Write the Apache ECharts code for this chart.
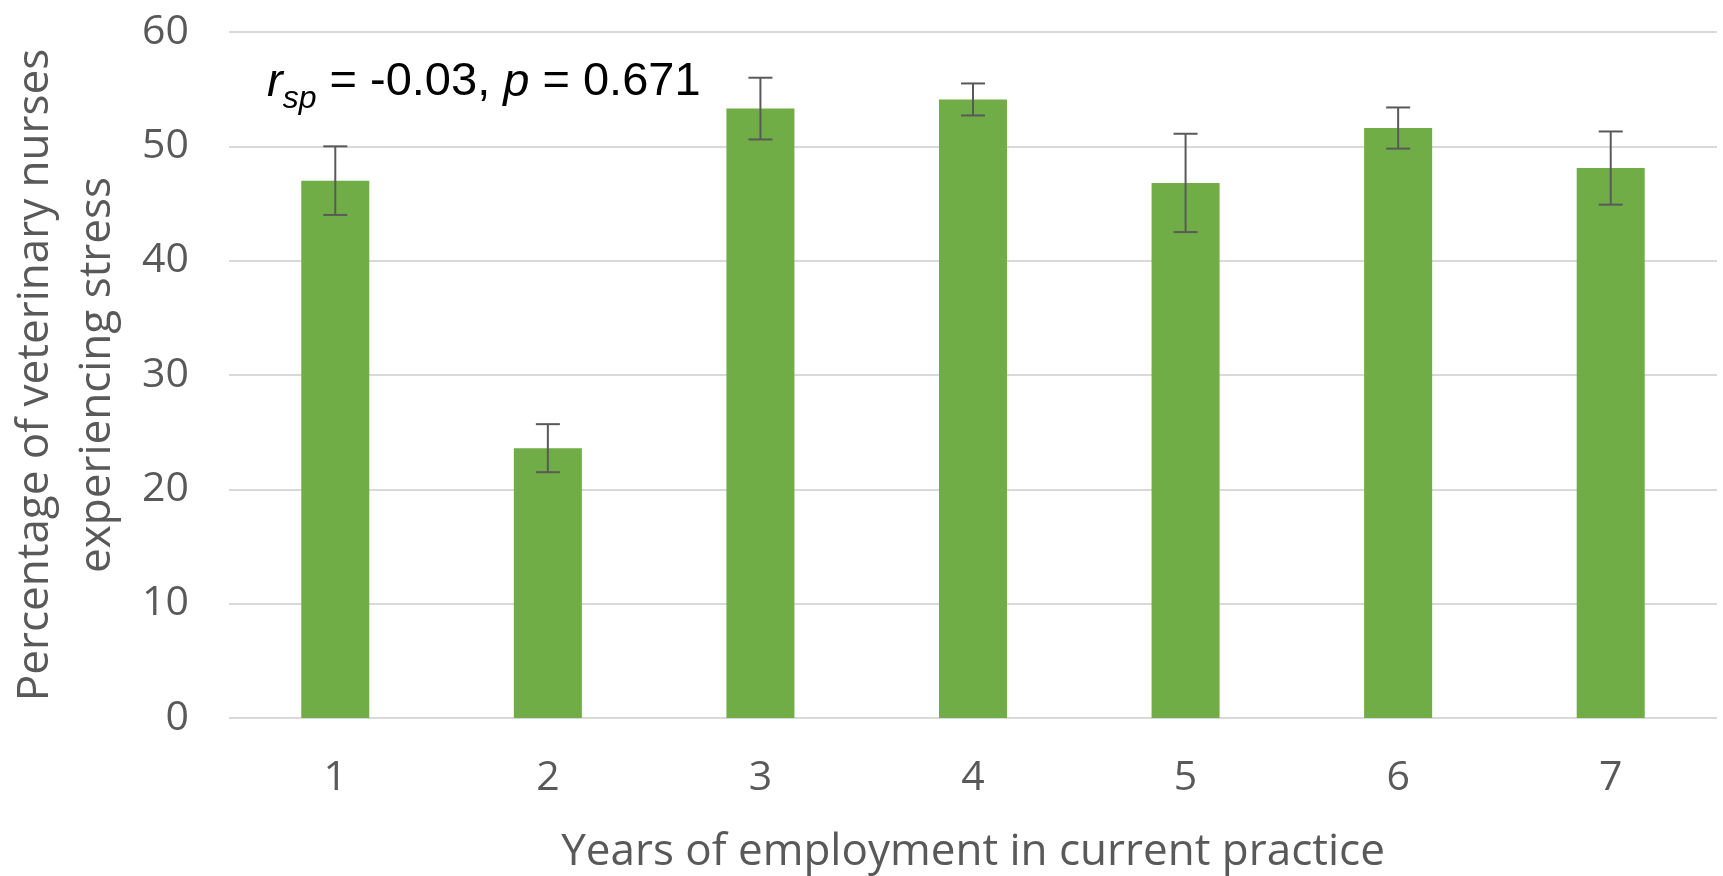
<!DOCTYPE html>
<html>
<head>
<meta charset="utf-8">
<script src="https://cdn.jsdelivr.net/npm/echarts@6/dist/echarts.min.js"></script>
<style>
  html, body { margin: 0; padding: 0; background: #ffffff; }
  #chart { width: 1723px; height: 876px; }
</style>
</head>
<body>
<div id="chart"></div>
<script>
// ---- data ----
const categories = ['1', '2', '3', '4', '5', '6', '7'];
const stressPct = [47.0, 23.6, 53.3, 54.1, 46.8, 51.6, 48.1];
const stressErr = [3.0, 2.1, 2.7, 1.4, 4.3, 1.8, 3.2];
const yTickMin = 0, yTickMax = 60, yTickStep = 10;
const xTitle = 'Years of employment in current practice';
const yTitle = 'Percentage of veterinary nurses\nexperiencing stress';
const statRho = '-0.03', statP = '0.671';

const FONT = '"Open Sans", sans-serif';
const SANS = '"Liberation Sans", Arial, sans-serif';
const GREY = '#595959';

const errData = categories.map((c, i) => [i, stressPct[i] - stressErr[i], stressPct[i] + stressErr[i]]);

const chart = echarts.init(document.getElementById('chart'), null, { renderer: 'canvas' });
chart.setOption({
  animation: false,
  backgroundColor: '#ffffff',
  grid: { left: 229, right: 6, top: 32, bottom: 158, containLabel: false, outerBoundsMode: 'none' },
  xAxis: {
    type: 'category',
    data: categories,
    axisLine: { show: false },
    axisTick: { show: false },
    axisLabel: { color: GREY, fontFamily: FONT, fontSize: 41, margin: 40 },
    name: xTitle,
    nameLocation: 'middle',
    nameGap: 112,
    nameTextStyle: { color: GREY, fontFamily: FONT, fontSize: 44 }
  },
  yAxis: {
    type: 'value',
    min: yTickMin, max: yTickMax, interval: yTickStep,
    axisLine: { show: false },
    axisTick: { show: false },
    splitLine: { lineStyle: { color: '#d9d9d9', width: 2 } },
    axisLabel: { color: GREY, fontFamily: FONT, fontSize: 41, margin: 40 },
    name: yTitle,
    nameLocation: 'middle',
    nameRotate: 90,
    nameGap: 101,
    nameTextStyle: { color: GREY, fontFamily: FONT, fontSize: 44, lineHeight: 62, align: 'center' }
  },
  graphic: [{
    type: 'text',
    left: 267,
    top: 50,
    style: {
      text: '{i|r}{sub|sp}{n| = ' + statRho + ', }{i|p}{n| = ' + statP + '}',
      rich: {
        i: { fontFamily: SANS, fontSize: 47, fontStyle: 'italic', color: '#000', lineHeight: 47 },
        n: { fontFamily: SANS, fontSize: 47, color: '#000', lineHeight: 47 },
        sub: { fontFamily: SANS, fontSize: 32, fontStyle: 'italic', color: '#000', lineHeight: 32, padding: [33, 0, 0, 0] }
      }
    }
  }],
  series: [
    {
      type: 'bar',
      data: stressPct,
      barWidth: '32%',
      itemStyle: { color: '#70AD47' }
    },
    {
      type: 'custom',
      data: errData,
      encode: { x: 0, y: [1, 2] },
      z: 5,
      renderItem: function (params, api) {
        const x = api.value(0);
        const lo = api.coord([x, api.value(1)]);
        const hi = api.coord([x, api.value(2)]);
        const hw = 12;
        const st = { stroke: GREY, lineWidth: 2 };
        return {
          type: 'group',
          children: [
            { type: 'line', shape: { x1: lo[0], y1: lo[1], x2: hi[0], y2: hi[1] }, style: st },
            { type: 'line', shape: { x1: hi[0] - hw, y1: hi[1], x2: hi[0] + hw, y2: hi[1] }, style: st },
            { type: 'line', shape: { x1: lo[0] - hw, y1: lo[1], x2: lo[0] + hw, y2: lo[1] }, style: st }
          ]
        };
      }
    }
  ]
});
</script>
</body>
</html>
